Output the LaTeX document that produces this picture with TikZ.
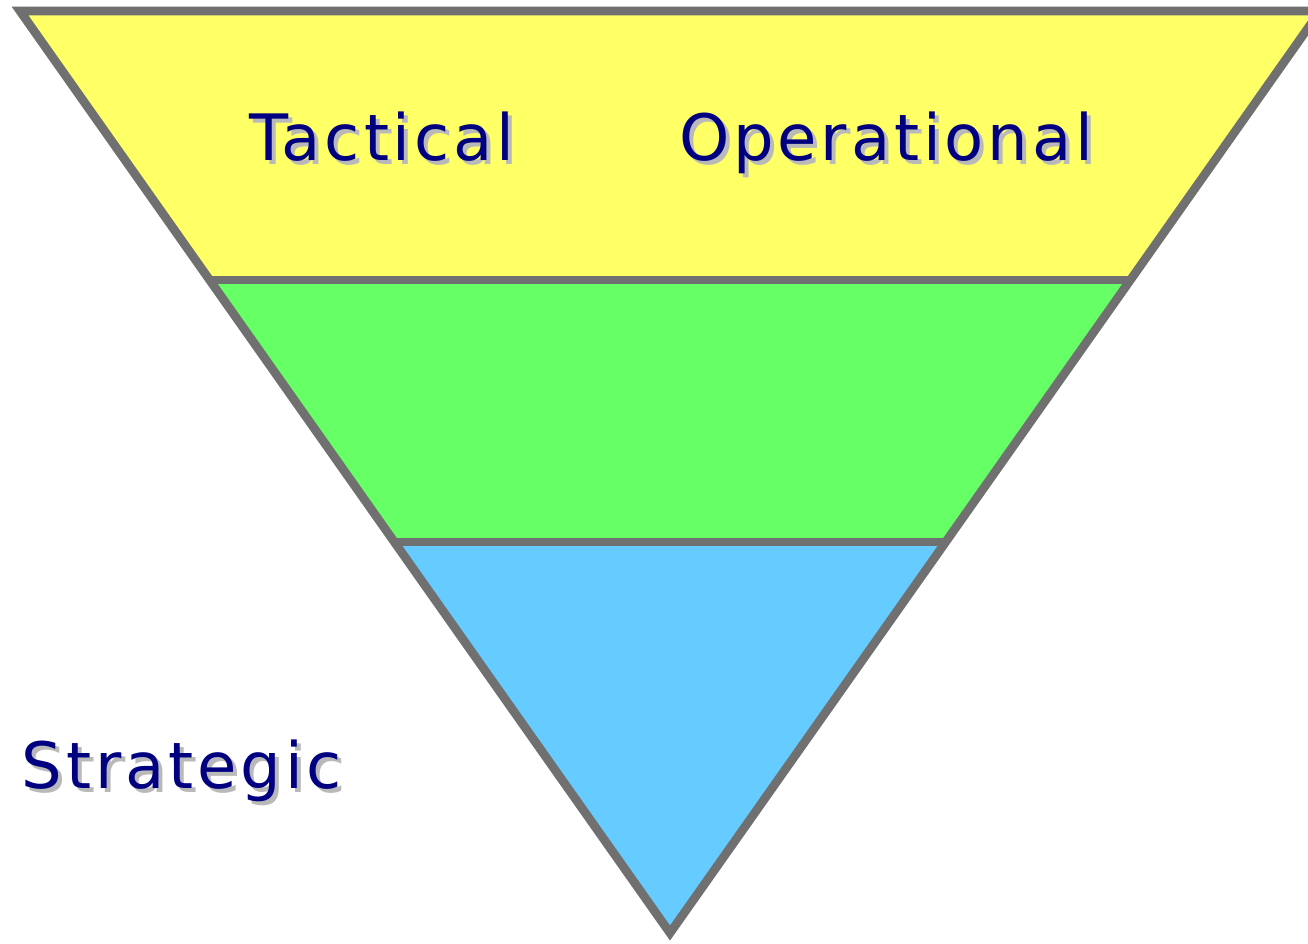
\documentclass[tikz,border=0pt]{standalone}
\usepackage{fontspec}
\setmainfont{DejaVu Sans}[LetterSpace=6]

\definecolor{rimgray}{RGB}{112,112,112}
\definecolor{topyellow}{RGB}{255,255,102}
\definecolor{midgreen}{RGB}{102,255,102}
\definecolor{lowblue}{RGB}{102,204,255}
\definecolor{wordnavy}{RGB}{0,0,128}
\definecolor{wordshade}{RGB}{185,185,185}

\tikzset{every picture/.style={line width=0.75pt}}
\tikzset{
  levelword/.style={anchor=base,inner sep=0pt,text=wordnavy,font=\fontsize{48}{52}\selectfont},
  levelshade/.style={anchor=base,inner sep=0pt,text=wordshade,font=\fontsize{48}{52}\selectfont},
  rim/.style={draw=rimgray,line width=6.5pt,line join=miter}
}

\begin{document}
\begin{tikzpicture}[x=0.75pt,y=0.75pt,yscale=-1,xscale=1]
	\clip (0,0) rectangle (1308,943);
	\path [fill=white] (0,0) rectangle (1308,943);

	%Shape: Trapezoid [id:top band]
	\fill [topyellow] (20,11) -- (1320,11) -- (1130.4,280) -- (209.6,280) -- cycle ;
	%Shape: Trapezoid [id:middle band]
	\fill [midgreen] (209.6,280) -- (1130.4,280) -- (945.7,542) -- (394.3,542) -- cycle ;
	%Shape: Triangle [id:bottom band]
	\fill [lowblue] (394.3,542) -- (945.7,542) -- (670,933) -- cycle ;

	%Straight Lines [id:band borders]
	\draw [rim] (209.6,280) -- (1130.4,280) ;
	\draw [rim] (394.3,542) -- (945.7,542) ;
	%Shape: Triangle [id:outline]
	\draw [rim] (20,11) -- (1320,11) -- (670,933) -- cycle ;

	% Text Node
	\node [levelshade] (tacticalshade) at (386,164) {Tactical};
	\node [levelword] (tactical) at (382,160) {Tactical};
	% Text Node
	\node [levelshade] (operationalshade) at (890,164) {Operational};
	\node [levelword] (operational) at (886,160) {Operational};
	% Text Node
	\node [levelshade] (strategicshade) at (186,792) {Strategic};
	\node [levelword] (strategic) at (182,788) {Strategic};

\end{tikzpicture}
\end{document}
